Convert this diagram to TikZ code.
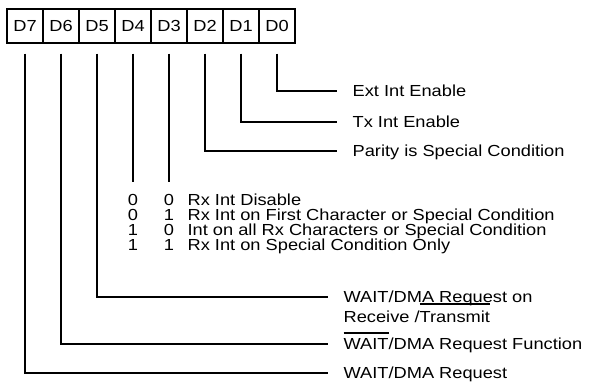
\documentclass[tikz,border=0pt]{standalone}
\usepackage{fontspec}
\setmainfont{Liberation Sans}[FakeStretch=1.14]

\newlength{\barlen}
\newcommand{\hibar}[2]{\settowidth{\barlen}{#2}\rlap{\rule[#1]{\barlen}{1.1pt}}#2}

\begin{document}
\begin{tikzpicture}[x=1pt, y=-1pt, line width=1.3pt,
  font=\fontsize{16}{20}\selectfont,
  bit/.style={draw, minimum width=36pt, minimum height=34pt, inner sep=0pt},
  lbl/.style={anchor=west, inner sep=0pt, text height=11.5pt, text depth=0pt},
  val/.style={inner sep=0pt, text height=11.5pt, text depth=0pt}]

\useasboundingbox (0,0) rectangle (600,383);

\foreach \b [count=\i from 0] in {7,6,5,4,3,2,1,0}
  \node[bit] (d\b) at (25+36*\i,26) {D\b};

\node[lbl] (t0) at (352,91) {Ext Int Enable};
\node[lbl] (t1) at (352,122) {Tx Int Enable};
\node[lbl] (t2) at (352,151) {Parity is Special Condition};

\draw ([yshift=-10pt]d0.south) |- ([xshift=-15pt]t0.west);
\draw ([yshift=-10pt]d1.south) |- ([xshift=-15pt]t1.west);
\draw ([yshift=-10pt]d2.south) |- ([xshift=-15pt]t2.west);

\foreach \p/\q/\txt [count=\r] in {0/0/Rx Int Disable,
    0/1/Rx Int on First Character or Special Condition,
    1/0/Int on all Rx Characters or Special Condition,
    1/1/Rx Int on Special Condition Only} {
  \node[val] (p\r) at (133,185+15*\r) {\p};
  \node[val] (q\r) at (169,185+15*\r) {\q};
  \node[lbl] (m\r) at (187,185+15*\r) {\txt};
}

\draw ([yshift=-10pt]d4.south) -- ([yshift=12pt]p1.north);
\draw ([yshift=-10pt]d3.south) -- ([yshift=12pt]q1.north);

\node[lbl] (t5) at (343,297) {WAIT/DMA Request on};
\node[lbl] (t5b) at (343,317) {Receive /\hibar{18.2pt}{Transmit}};
\node[lbl] (t6) at (343,344) {\hibar{16.2pt}{WAIT}/DMA Request Function};
\node[lbl] (t7) at (343,373) {WAIT/DMA Request};

\draw ([yshift=-10pt]d5.south) |- ([xshift=-15pt]t5.west);
\draw ([yshift=-10pt]d6.south) |- ([xshift=-15pt]t6.west);
\draw ([yshift=-10pt]d7.south) |- ([xshift=-15pt]t7.west);
\end{tikzpicture}
\end{document}
